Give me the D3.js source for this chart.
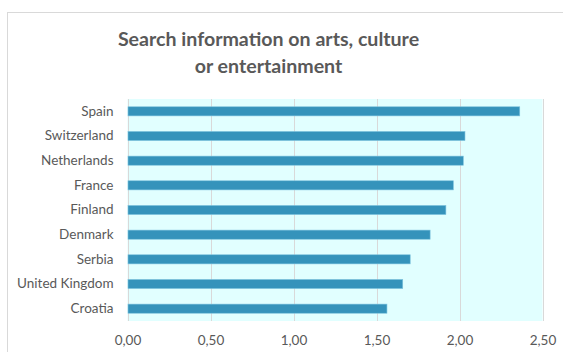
<!DOCTYPE html>
<html>
<head>
<meta charset="utf-8">
<script src="https://cdn.jsdelivr.net/npm/d3@7"></script>
<style>
  html, body { margin: 0; padding: 0; background: #ffffff; }
  svg { display: block; }
  text { font-family: Lato, "Open Sans", sans-serif; }
</style>
</head>
<body>
<svg id="chart" width="563" height="352"></svg>
<script>
// Countries, top to bottom
const countries = ["Spain", "Switzerland", "Netherlands", "France", "Finland",
                   "Denmark", "Serbia", "United Kingdom", "Croatia"];
// Average score per country
const scores = [2.36, 2.03, 2.02, 1.96, 1.915, 1.82, 1.70, 1.655, 1.56];
// Value axis ticks
const ticks = [0, 0.5, 1.0, 1.5, 2.0, 2.5];
const titleLines = ["Search information on arts, culture", "or entertainment"];

const svg = d3.select("#chart");
const W = 563, H = 352;
const plot = { left: 127.5, right: 542.5, top: 99, bottom: 321 };

// Outer chart frame (runs off the right and bottom edges)
svg.append("rect")
  .attr("x", 7.5).attr("y", 12.5)
  .attr("width", W + 20).attr("height", H + 20)
  .attr("fill", "#ffffff")
  .attr("stroke", "#d9d9d9").attr("stroke-width", 1);

// Title
svg.append("g").selectAll("text")
  .data(titleLines)
  .join("text")
  .attr("x", 268.5)
  .attr("y", (d, i) => 46 + i * 27)
  .attr("text-anchor", "middle")
  .attr("font-size", 19.6)
  .attr("font-weight", "bold")
  .attr("fill", "#595959")
  .text(d => d);

const x = d3.scaleLinear().domain([0, 2.5]).range([plot.left, plot.right]);
const y = d3.scaleBand().domain(countries).range([plot.top, plot.bottom])
  .paddingInner(0.63).paddingOuter(0.315);

// Plot background
svg.append("rect")
  .attr("x", plot.left).attr("y", plot.top)
  .attr("width", plot.right - plot.left).attr("height", plot.bottom - plot.top)
  .attr("fill", "#e1ffff");

// Vertical gridlines
svg.append("g").selectAll("line")
  .data(ticks)
  .join("line")
  .attr("x1", d => Math.round(x(d)) + 0.5).attr("x2", d => Math.round(x(d)) + 0.5)
  .attr("y1", plot.top).attr("y2", plot.bottom)
  .attr("stroke", "#d9d9d9").attr("stroke-width", 1);

// Bars
svg.append("g").selectAll("rect")
  .data(countries.map((c, i) => ({ c, v: scores[i] })))
  .join("rect")
  .attr("x", x(0) + 0.5)
  .attr("y", d => y(d.c))
  .attr("width", d => x(d.v) - x(0))
  .attr("height", y.bandwidth())
  .attr("fill", "#3593bb")
  .attr("stroke", "#7ec3de").attr("stroke-width", 0.6);

// Category axis labels
const yAxis = d3.axisLeft(y).tickSize(0).tickPadding(14);
const gy = svg.append("g").attr("transform", `translate(${plot.left},0)`).call(yAxis);
gy.select(".domain").remove();
gy.selectAll("text")
  .attr("font-size", 13.5).attr("fill", "#595959")
  .attr("font-family", "Lato, 'Open Sans', sans-serif");

// Value axis labels
const xAxis = d3.axisBottom(x).tickValues(ticks).tickSize(0).tickPadding(14)
  .tickFormat(d => d3.format(".2f")(d).replace(".", ","));
const gx = svg.append("g").attr("transform", `translate(0,${plot.bottom})`).call(xAxis);
gx.select(".domain").remove();
gx.selectAll("text")
  .attr("font-size", 13.5).attr("fill", "#595959")
  .attr("font-family", "Lato, 'Open Sans', sans-serif");
</script>
</body>
</html>
